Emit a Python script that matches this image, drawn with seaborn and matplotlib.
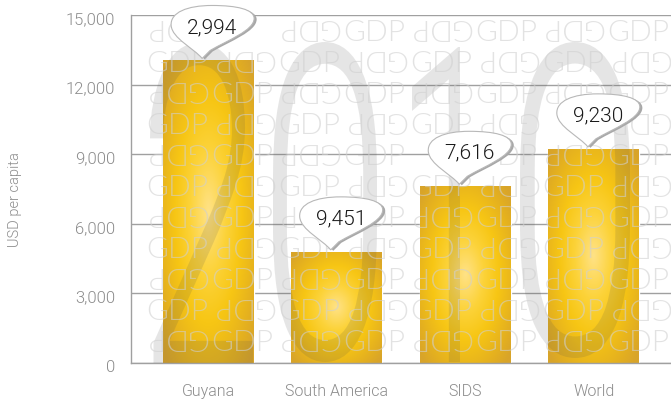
import numpy as np
import pandas as pd
import matplotlib
matplotlib.use("Agg")
import matplotlib.pyplot as plt
import seaborn as sns
from matplotlib.path import Path
from matplotlib.patches import PathPatch
from matplotlib.textpath import TextPath
from matplotlib.font_manager import FontProperties
import matplotlib.transforms as mtransforms
from matplotlib.colors import LinearSegmentedColormap

# ---- data ----
categories = ["Guyana", "South America", "SIDS", "World"]
values = [13040, 4790, 7616, 9230]
bubble_labels = ["2,994", "9,451", "7,616", "9,230"]
y_ticks = [0, 3000, 6000, 9000, 12000, 15000]
y_tick_labels = ["0", "3,000", "6,000", "9,000", "12,000", "15,000"]
y_title = "USD per capita"
watermark_word = "GDP"
watermark_year = "2010"

sns.set_theme(style="white")
plt.rcParams["font.family"] = ["Roboto", "DejaVu Sans"]

W, H = 671, 403
fig = plt.figure(figsize=(W / 100, H / 100), dpi=100)
fig.patch.set_facecolor("white")
ax = fig.add_axes([131 / W, (H - 363) / H, (W - 131) / W, 348 / H])
ax.set_facecolor("white")
ax.set_xlim(-0.6, 3.6)
ax.set_ylim(0, 15000)

df = pd.DataFrame({"cat": categories, "val": values})
sns.barplot(data=df, x="cat", y="val", color="#F5C518", width=0.707,
            saturation=1, ax=ax, zorder=2)
ax.set_xlim(-0.6, 3.6)
ax.set_ylim(0, 15000)

# radial gold gradient on bars
cmap = LinearSegmentedColormap.from_list(
    "gold", [(0, "#FFE287"), (0.3, "#FCD33A"), (0.55, "#F7C614"),
             (0.85, "#E3AF20"), (1, "#D8A42A")])
xx = np.linspace(-1, 1, 80)
yy = np.linspace(-1, 1, 160)
X, Y = np.meshgrid(xx, yy)
R = np.clip(np.sqrt(X ** 2 + Y ** 2) / 1.35, 0, 1)
for p in list(ax.patches):
    x0, y0 = p.get_x(), p.get_y()
    w, h = p.get_width(), p.get_height()
    im = ax.imshow(R, extent=[x0, x0 + w, y0, y0 + h], origin="lower",
                   cmap=cmap, vmin=0, vmax=1, aspect="auto",
                   interpolation="bilinear", zorder=2.1)
    im.set_clip_path(p)
ax.set_xlim(-0.6, 3.6)
ax.set_ylim(0, 15000)

# big year watermark
digit_boxes = [(150, 253, 43, 363), (273, 377, 42, 362),
               (412, 460, 47, 362), (520, 630, 42, 358)]
fp = FontProperties(family="Roboto", weight=300)
for ch, (bx0, bx1, by0, by1) in zip(watermark_year, digit_boxes):
    tp = TextPath((0, 0), ch, size=100, prop=fp)
    ext = tp.get_extents()
    tr = (mtransforms.Affine2D().translate(-ext.x0, -ext.y0)
          .scale((bx1 - bx0) / ext.width, (by1 - by0) / ext.height)
          .translate(bx0, H - by1))
    patch = PathPatch(tr.transform_path(tp), transform=mtransforms.IdentityTransform(),
                      facecolor=(0.3, 0.3, 0.3), alpha=0.14, edgecolor="none", zorder=3)
    ax.add_artist(patch)

# bubble tips in pixels (for hiding pattern text fully under bubbles)
fig.canvas.draw()
tips = [ax.transData.transform((i, v)) + np.array([-6, 2]) for i, v in enumerate(values)]

def under_bubble(px, py):
    for tx, ty in tips:
        if tx - 22 <= px <= tx + 40 and ty + 14 <= py <= ty + 46:
            return True
    return False

# GDP pattern watermark
wm_size = 21.5
cap_half = wm_size * 100 / 72 * 0.72 / 2
rows_y = np.arange(30, 350, 31)
for r, yi in enumerate(rows_y):
    off = 506 if r % 2 == 0 else 441
    for k in range(-8, 8):
        cx = off + 66 * k
        if cx < 172 or cx > 642:
            continue
        yc = H - yi
        if under_bubble(cx, yc):
            continue
        upright = (k % 2 == 0)
        ya = yc - cap_half if upright else yc + cap_half
        ax.text(cx, ya, watermark_word, transform=mtransforms.IdentityTransform(),
                rotation=0 if upright else 180, rotation_mode="anchor",
                ha="center", va="baseline", fontsize=wm_size, family="Lato",
                fontweight=300, color="#d0d0d0", alpha=0.6, zorder=4)

# speech bubbles
verts = [(0, 0), (-8, 10), (-30, 20), (-31, 33), (-32, 46), (-15, 53), (10, 53),
         (35, 53), (52, 49), (52, 40), (52, 28), (25, 18), (8, 8), (0, 0), (0, 0)]
codes = ([Path.MOVETO] + [Path.CURVE4] * 12 + [Path.LINETO, Path.CLOSEPOLY])
bubble = Path(verts, codes)
for i, (v, lab) in enumerate(zip(values, bubble_labels)):
    base = mtransforms.ScaledTranslation(i, v, ax.transData)
    sh = PathPatch(bubble, transform=mtransforms.Affine2D().translate(-6 + 2.5, 2 - 1) + base,
                   facecolor="#a8a8a8", edgecolor="none", zorder=6, clip_on=False)
    ax.add_artist(sh)
    bp = PathPatch(bubble, transform=mtransforms.Affine2D().translate(-6, 2) + base,
                   facecolor="white", edgecolor="#b8b8b8", lw=0.8, zorder=6.5, clip_on=False)
    ax.add_artist(bp)
    ax.annotate(lab, xy=(i, v), xytext=(-6 + 10, 2 + 31), textcoords="offset pixels",
                ha="center", va="center", fontsize=15, fontweight=300, color="#1a1a1a",
                zorder=7, annotation_clip=False)

# axes styling
ax.set_yticks(y_ticks)
ax.set_yticklabels(y_tick_labels)
ax.set_xlabel("")
ax.set_ylabel("")
ax.tick_params(axis="y", length=0, pad=11.5, labelsize=12, labelcolor="#8c8c8c")
ax.tick_params(axis="x", length=0, pad=15, labelsize=11.5, labelcolor="#8c8c8c")
for lab in ax.get_yticklabels():
    lab.set_fontweight(300)
    lab.set_transform(lab.get_transform() +
                      mtransforms.ScaledTranslation(0, -3 / 100, fig.dpi_scale_trans))
for lab in ax.get_xticklabels():
    lab.set_fontweight(300)
ax.yaxis.grid(True, color="#a0a0a0", lw=1)
ax.xaxis.grid(False)
ax.set_axisbelow(True)
for s in ["top", "right"]:
    ax.spines[s].set_visible(False)
ax.spines["left"].set_color("#a0a0a0")
ax.spines["bottom"].set_color("#a0a0a0")
ax.spines["left"].set_linewidth(1)
ax.spines["bottom"].set_linewidth(1)

fig.text(15 / W, 1 - 200 / H, y_title, rotation=90, ha="center", va="center",
         fontsize=10.5, fontweight=300, color="#8c8c8c")

fig.savefig("out.png", dpi=100)
